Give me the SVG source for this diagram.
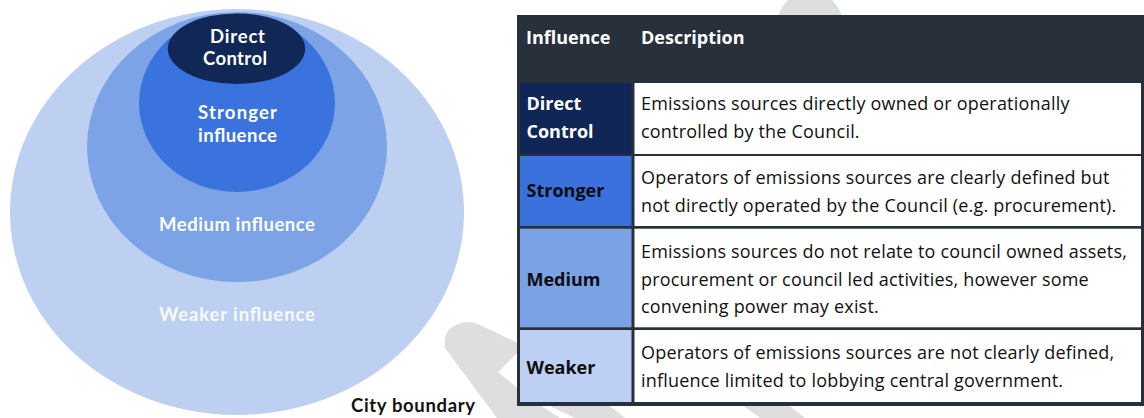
<svg xmlns="http://www.w3.org/2000/svg" width="1144" height="418" viewBox="0 0 1144 418">
<style>
.wm{fill:#dedede}
.clab{font-family:Lato,"Open Sans","DejaVu Sans",sans-serif;font-weight:700;font-size:18.5px;fill:#ffffff;text-anchor:middle}
.hd{font-family:"Open Sans","Liberation Sans",sans-serif;font-weight:700;font-size:18px;fill:#ffffff}
.lab{font-family:"Open Sans","Liberation Sans",sans-serif;font-weight:700;font-size:18px;fill:#0d0d0d}
.desc{font-family:"Open Sans","Liberation Sans",sans-serif;font-size:18px;letter-spacing:0.2px;fill:#111111}
.border{fill:#27303b}
</style>
<g id="watermark">
<circle class="wm" cx="810" cy="25" r="33"/>
<path class="wm" d="M445 348 Q443 330 456 325 Q468 319 480 325 L518 343 L518 352 L498 372 L532 400 L560 418 L497 418 Z"/>
<path class="wm" d="M520 392 L592 392 L625 418 L575 418 Z"/>
<path class="wm" d="M725 392 L772 392 L805 418 L760 418 Z"/>
</g>
<g id="circles">
<g id="weaker-circle"><ellipse cx="237" cy="212" rx="227" ry="203" fill="#bdd0f2"/><text class="clab" x="237" y="321" textLength="156" fill-opacity="0.92">Weaker influence</text></g>
<g id="medium-circle"><ellipse cx="237" cy="147" rx="150" ry="135" fill="#7ba3e6"/><text class="clab" x="237" y="231" textLength="156">Medium influence</text></g>
<g id="stronger-circle"><ellipse cx="237" cy="103" rx="98" ry="89" fill="#3b73de"/><text class="clab" x="237.5" y="119" textLength="79">Stronger</text><text class="clab" x="237.5" y="142" textLength="79">influence</text></g>
<g id="direct-circle"><ellipse cx="236.5" cy="48.7" rx="68.7" ry="35.3" fill="#112857"/><text class="clab" x="237.5" y="43" textLength="55">Direct</text><text class="clab" x="235" y="65" textLength="64">Control</text></g>
<text id="city-boundary" x="351" y="412" font-family="Lato,'Open Sans',sans-serif" font-weight="700" font-size="18.5" fill="#111111" textLength="124">City boundary</text>
</g>
<g id="table">
<rect class="border" x="517" y="15" width="627" height="391"/>
<g id="header"><text class="hd" x="526" y="44">Influence</text><text class="hd" x="641" y="44">Description</text></g>
<g id="row-direct">
<rect x="520" y="83" width="111.5" height="71" fill="#102656"/>
<rect x="634.5" y="83" width="506.5" height="71" fill="#ffffff"/>
<text class="lab" x="526.5" y="110" style="fill:#ffffff">Direct</text>
<text class="lab" x="526.5" y="138" style="fill:#ffffff">Control</text>
<text class="desc" x="641" y="110">Emissions sources directly owned or operationally</text>
<text class="desc" x="641" y="138">controlled by the Council.</text>
</g>
<g id="row-stronger">
<rect x="520" y="156" width="111.5" height="70" fill="#3b71de"/>
<rect x="634.5" y="156" width="506.5" height="70" fill="#ffffff"/>
<text class="lab" x="526.5" y="197">Stronger</text>
<text class="desc" x="641" y="183.5">Operators of emissions sources are clearly defined but</text>
<text class="desc" x="641" y="212">not directly operated by the Council (e.g. procurement).</text>
</g>
<g id="row-medium">
<rect x="520" y="228.7" width="111.5" height="98.6" fill="#7aa2e6"/>
<rect x="634.5" y="228.7" width="506.5" height="98.6" fill="#ffffff"/>
<text class="lab" x="526.5" y="285.5">Medium</text>
<text class="desc" x="641" y="258">Emissions sources do not relate to council owned assets,</text>
<text class="desc" x="641" y="285.5">procurement or council led activities, however some</text>
<text class="desc" x="641" y="313">convening power may exist.</text>
</g>
<g id="row-weaker">
<rect x="520" y="330" width="111.5" height="72" fill="#bdd0f3"/>
<rect x="634.5" y="330" width="506.5" height="72" fill="#ffffff"/>
<text class="lab" x="526.5" y="374">Weaker</text>
<text class="desc" x="641" y="359">Operators of emissions sources are not clearly defined,</text>
<text class="desc" x="641" y="387">influence limited to lobbying central government.</text>
</g>
</g>
<g id="connectors"/>
</svg>
